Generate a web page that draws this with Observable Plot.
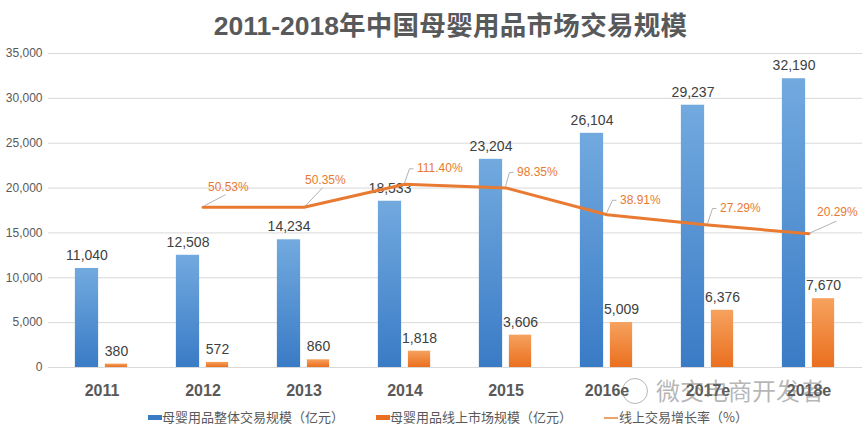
<!DOCTYPE html>
<html><head><meta charset="utf-8">
<script src="https://cdn.jsdelivr.net/npm/d3@7"></script>
<script src="https://cdn.jsdelivr.net/npm/@observablehq/plot@0.6"></script>
<style>
body{margin:0;background:#fff;width:865px;height:427px;overflow:hidden;position:relative;font-family:"Liberation Sans","Noto Sans CJK SC",sans-serif;}
#title{position:absolute;left:18px;top:1px;width:865px;height:46px;text-align:center;line-height:46px;font-weight:bold;font-size:26.5px;color:#58595b;white-space:nowrap;}
#title .cjk{font-family:"Noto Sans CJK SC";letter-spacing:0.3px;}
#chart{position:absolute;left:0;top:46px;}
#legend{position:absolute;left:0;top:406px;width:865px;height:22px;font-family:"Noto Sans CJK SC";font-size:13px;color:#595959;}
#legend span{position:absolute;white-space:nowrap;}
#legend .t{top:0;line-height:22px;}
#legend .sw{top:9px;width:14px;height:5px;}
#wm{position:absolute;left:622px;top:374px;height:32px;font-family:"Noto Sans CJK SC";font-size:24px;line-height:32px;color:rgba(110,110,110,0.5);white-space:nowrap;}
#wm i{display:inline-block;width:24px;height:24px;border:1.5px solid rgba(110,110,110,0.5);border-radius:50%;vertical-align:middle;margin-right:8px;margin-top:-4px;}
</style>
</head><body>
<div id="title">2011-2018<span class="cjk">年中国母婴用品市场交易规模</span></div>
<div id="chart"></div>
<div id="legend"></div>
<div id="wm"><i></i>微交电商开发者</div>
<script>
// ---- data ----
const years = ["2011","2012","2013","2014","2015","2016e","2017e","2018e"];
const totalScale = [11040,12508,14234,18533,23204,26104,29237,32190];   // 母婴用品整体交易规模（亿元）
const onlineScale = [380,572,860,1818,3606,5009,6376,7670];             // 母婴用品线上市场规模（亿元）
const onlineGrowth = [null,50.53,50.35,111.40,98.35,38.91,27.29,20.29]; // 线上交易增长率（%）
const yTicks = [0,5000,10000,15000,20000,25000,30000,35000];
const seriesNames = ["母婴用品整体交易规模（亿元）","母婴用品线上市场规模（亿元）","线上交易增长率（%）"];

// ---- styles ----
const blueTop = "#72aadf", blueBot = "#3a7bc6";
const orangeTop = "#f6a25e", orangeBot = "#ea6f1f";
const lineColor = "#e97a32";
// per-label offsets of the growth-rate callouts (px)
const calloutOffsets = [null,[5,-20],[1,-27],[12,-16],[11,-16],[13,-15],[12,-17],[8,-21]];

const rows = years.map((year,i)=>({year,total:totalScale[i],online:onlineScale[i],rate:onlineGrowth[i],i}));
const rateRows = rows.filter(d=>d.rate!=null);

// hidden secondary (log) axis for the growth rate, expressed in primary-axis units
const rateAxis = d3.scaleLog().domain([20.29,111.40]).range([14920,20420]);

const W = 865, H = 360, mL = 48, mR = 3, mT = 7, mB = 39;
const bw = (W - mL - mR) / years.length;
const fmt = d3.format(",");

const defs = () => {
  const svgNS = "http://www.w3.org/2000/svg";
  const d = document.createElementNS(svgNS,"defs");
  d.innerHTML = `
   <linearGradient id="gBlue" x1="0" y1="0" x2="0" y2="1">
     <stop offset="0" stop-color="${blueTop}"/><stop offset="1" stop-color="${blueBot}"/></linearGradient>
   <linearGradient id="gOrange" x1="0" y1="0" x2="0" y2="1">
     <stop offset="0" stop-color="${orangeTop}"/><stop offset="1" stop-color="${orangeBot}"/></linearGradient>`;
  return d;
};

const leaders = (index, scales) => {
  if (!scales || !scales.x || !scales.y) return null;
  const x = scales.x, y = scales.y;
  const b = x.bandwidth ? x.bandwidth() : bw;
  const g = d3.create("svg:g").attr("fill","none").attr("stroke","#a0a0a0").attr("stroke-width",0.8);
  rateRows.forEach(d=>{
    const cx = x(d.year) + b/2, cy = y(rateAxis(d.rate));
    const [dx,dy] = calloutOffsets[d.i];
    let p;
    if (d.i <= 2) p = `M${cx+2},${cy-1}L${cx+dx+18},${cy+dy+8}`;
    else if (d.i === 7) p = `M${cx+1},${cy}L${cx+dx+20},${cy+dy+9}`;
    else p = `M${cx},${cy-1}L${cx+dx-7},${cy+dy+1}L${cx+dx-3},${cy+dy+1}`;
    g.append("path").attr("d",p);
  });
  return g.node();
};

const marks = [
  defs,
  Plot.gridY(yTicks, {stroke:"#d9d9d9", strokeOpacity:1}),
  Plot.axisY(yTicks, {tickSize:0, tickPadding:6, tickFormat:fmt, fontSize:12, fill:"#595959", label:null}),
  Plot.axisX({tickSize:0, tickPadding:17, fontSize:16, fontWeight:"bold", fill:"#595959", label:null}),
  Plot.barY(rows, {x:"year", y:"total", fill:"url(#gBlue)", insetLeft: bw/2-27, insetRight: bw/2+3}),
  Plot.barY(rows, {x:"year", y:"online", fill:"url(#gOrange)", insetLeft: bw/2+3, insetRight: bw/2-26}),
  Plot.text(rows, {x:"year", y:"total", text:d=>fmt(d.total), dx:-15, dy:-13, fontSize:14, fill:"#404040"}),
  Plot.text(rows, {x:"year", y:"online", text:d=>fmt(d.online), dx:14.5, dy:-13, fontSize:14, fill:"#404040"}),
  Plot.line(rateRows, {x:"year", y:d=>rateAxis(d.rate), stroke:lineColor, strokeWidth:3, strokeLinejoin:"round"}),
  leaders,
  ...rateRows.map(d => Plot.text([d], {x:"year", y:r=>rateAxis(r.rate), text:r=>r.rate.toFixed(2)+"%",
      dx:calloutOffsets[d.i][0], dy:calloutOffsets[d.i][1], textAnchor:"start", fontSize:12, fill:lineColor}))
];

const chart = Plot.plot({
  width: W, height: H,
  marginLeft: mL, marginRight: mR, marginTop: mT, marginBottom: mB,
  style: {fontFamily:"'Liberation Sans','Noto Sans CJK SC',sans-serif", background:"white", overflow:"visible"},
  x: {domain: years, padding: 0, label: null},
  y: {domain: [0, 35000], label: null},
  marks
});
document.getElementById("chart").appendChild(chart);

// ---- legend ----
const lg = document.getElementById("legend");
const legendItems = [
  {sw:148, tx:162, color:blueBot, h:5, name:seriesNames[0]},
  {sw:376, tx:390, color:orangeBot, h:5, name:seriesNames[1]},
  {sw:604, tx:619, color:"#eda46b", h:2, name:seriesNames[2]}
];
legendItems.forEach(it=>{
  const s = document.createElement("span"); s.className="sw";
  s.style.left = it.sw+"px"; s.style.background = it.color; s.style.height = it.h+"px";
  if (it.h===2) s.style.top = "11px";
  lg.appendChild(s);
  const t = document.createElement("span"); t.className="t"; t.style.left = it.tx+"px"; t.textContent = it.name;
  lg.appendChild(t);
});
</script>
</body></html>
